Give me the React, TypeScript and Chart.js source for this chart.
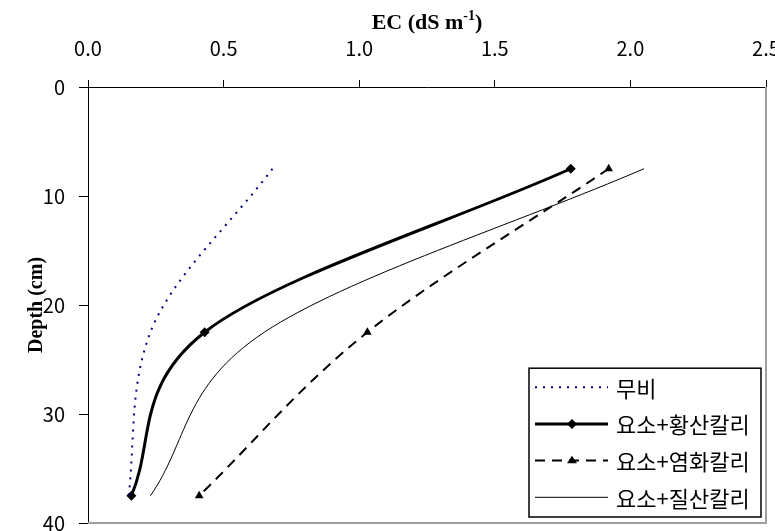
import React, { useEffect, useRef } from 'react';
import { Chart, registerables } from 'chart.js';

Chart.register(...registerables);

// ---- data ----
const depths = [7.5, 22.5, 37.5];
const seriesNames = ['무비', '요소+황산칼리', '요소+염화칼리', '요소+질산칼리'];
const ecControl = [0.68, 0.23, 0.15];
const ecUreaSulfate = [1.78, 0.43, 0.16];
const ecUreaChloride = [1.92, 1.03, 0.41];
const ecUreaNitrate = [2.05, 0.65, 0.23];
const xTickValues = [0, 0.5, 1.0, 1.5, 2.0, 2.5];
const yTickValues = [0, 10, 20, 30, 40];
const xTitleMain = 'EC (dS m';
const xTitleSup = '-1';
const xTitleEnd = ')';
const yTitle = 'Depth (cm)';

const seriesValues = [ecControl, ecUreaSulfate, ecUreaChloride, ecUreaNitrate];

type Style = { color: string; width: number; dash: number[]; point: string | null; radius: number };
const styles: Style[] = [
  { color: '#000080', width: 2, dash: [2, 6], point: null, radius: 0 },
  { color: '#000000', width: 3, dash: [], point: 'rectRot', radius: 5 },
  { color: '#000000', width: 2, dash: [10, 7], point: 'triangle', radius: 5 },
  { color: '#000000', width: 1, dash: [], point: null, radius: 0 },
];

const CJK = '"Noto Sans CJK KR", "Noto Sans", sans-serif';
const SERIF = '"Liberation Serif", "DejaVu Serif", serif';

function drawMarker(ctx: CanvasRenderingContext2D, kind: string | null, cx: number, cy: number, r: number) {
  if (!kind) return;
  ctx.beginPath();
  if (kind === 'rectRot') {
    ctx.moveTo(cx, cy - r);
    ctx.lineTo(cx + r, cy);
    ctx.lineTo(cx, cy + r);
    ctx.lineTo(cx - r, cy);
  } else {
    const h = r * 1.5;
    ctx.moveTo(cx, cy - h * 0.66);
    ctx.lineTo(cx + r, cy + h * 0.34);
    ctx.lineTo(cx - r, cy + h * 0.34);
  }
  ctx.closePath();
  ctx.fill();
}

const decorPlugin = {
  id: 'decor',
  afterDraw(chart: any) {
    const ctx: CanvasRenderingContext2D = chart.ctx;
    const a = chart.chartArea;
    ctx.save();
    // grey frame on right & bottom of plot area
    ctx.strokeStyle = '#a0a0a0';
    ctx.lineWidth = 2;
    ctx.setLineDash([]);
    ctx.beginPath();
    ctx.moveTo(a.right, a.top);
    ctx.lineTo(a.right, a.bottom);
    ctx.lineTo(a.left, a.bottom);
    ctx.stroke();

    // x axis title with superscript
    ctx.fillStyle = '#000';
    ctx.textBaseline = 'alphabetic';
    const mainFont = `bold 22px ${SERIF}`;
    const supFont = `bold 14px ${SERIF}`;
    ctx.font = mainFont;
    const w1 = ctx.measureText(xTitleMain).width;
    const w3 = ctx.measureText(xTitleEnd).width;
    ctx.font = supFont;
    const w2 = ctx.measureText(xTitleSup).width;
    const total = w1 + w2 + w3;
    const cx = (a.left + a.right) / 2;
    let x = cx - total / 2;
    const base = 29;
    ctx.font = mainFont;
    ctx.textAlign = 'left';
    ctx.fillText(xTitleMain, x, base);
    x += w1;
    ctx.font = supFont;
    ctx.fillText(xTitleSup, x, base - 9);
    x += w2;
    ctx.font = mainFont;
    ctx.fillText(xTitleEnd, x, base);

    // legend
    const right = a.right - 5;
    const bottom = a.bottom - 6;
    const width = 232;
    const rowH = 36.7;
    const height = rowH * seriesNames.length + 2;
    const left = right - width;
    const top = bottom - height;
    ctx.fillStyle = '#fff';
    ctx.fillRect(left, top, width, height);
    ctx.strokeStyle = '#000';
    ctx.lineWidth = 1.5;
    ctx.strokeRect(left, top, width, height);
    seriesNames.forEach((name, i) => {
      const st = styles[i];
      const y = top + 19 + i * rowH;
      ctx.strokeStyle = st.color;
      ctx.lineWidth = st.width;
      ctx.setLineDash(st.dash);
      ctx.beginPath();
      ctx.moveTo(left + 6, y);
      ctx.lineTo(left + 79, y);
      ctx.stroke();
      ctx.setLineDash([]);
      ctx.fillStyle = st.color;
      drawMarker(ctx, st.point, left + 43, y, st.radius);
      ctx.fillStyle = '#000';
      ctx.font = `22px ${CJK}`;
      ctx.textBaseline = 'middle';
      ctx.textAlign = 'left';
      ctx.fillText(name, left + 87, y + 1);
    });
    ctx.restore();
  },
};

export default function App() {
  const ref = useRef<HTMLCanvasElement | null>(null);
  useEffect(() => {
    if (!ref.current) return;
    const datasets = seriesNames.map((name, i) => ({
      label: name,
      data: depths.map((d, j) => ({ x: seriesValues[i][j], y: d })),
      borderColor: styles[i].color,
      backgroundColor: styles[i].color,
      borderWidth: styles[i].width,
      borderDash: styles[i].dash,
      pointStyle: styles[i].point || 'circle',
      pointRadius: styles[i].radius,
      pointBorderWidth: 0,
      pointBackgroundColor: styles[i].color,
      cubicInterpolationMode: 'monotone' as const,
      fill: false,
    }));
    const chart = new Chart(ref.current, {
      type: 'line',
      data: { datasets },
      plugins: [decorPlugin],
      options: {
        animation: false,
        responsive: false,
        indexAxis: 'y',
        layout: { padding: { left: 0, top: 0, right: 9, bottom: 8 } },
        plugins: { legend: { display: false }, tooltip: { enabled: false } },
        scales: {
          x: {
            type: 'linear',
            position: 'top',
            min: 0,
            max: 2.5,
            afterFit: (s: any) => { s.height = 87; s.paddingLeft = 0; s.paddingRight = 0; s.paddingTop = 0; s.paddingBottom = 0; },
            afterBuildTicks: (s: any) => { s.ticks = xTickValues.map((v) => ({ value: v })); },
            ticks: {
              callback: (v: any) => Number(v).toFixed(1),
              color: '#000',
              font: { family: CJK, size: 20 },
              padding: 20,
              maxRotation: 0,
              autoSkip: false,
            },
            grid: { drawOnChartArea: false, drawTicks: true, tickLength: 7, color: '#000', tickColor: '#000' },
            border: { display: true, color: '#000', width: 1 },
          },
          y: {
            type: 'linear',
            position: 'left',
            reverse: true,
            min: 0,
            max: 40,
            afterFit: (s: any) => { s.width = 88; s.paddingLeft = 0; s.paddingRight = 0; s.paddingTop = 0; s.paddingBottom = 0; },
            afterBuildTicks: (s: any) => { s.ticks = yTickValues.map((v) => ({ value: v })); },
            ticks: {
              color: '#000',
              font: { family: CJK, size: 20 },
              padding: 14,
              autoSkip: false,
            },
            grid: { drawOnChartArea: false, drawTicks: true, tickLength: 9, color: '#000', tickColor: '#000' },
            border: { display: true, color: '#000', width: 1 },
            title: {
              display: true,
              text: yTitle,
              color: '#000',
              font: { family: SERIF, size: 20, weight: 'bold' },
              padding: { top: 25, bottom: 0 },
            },
          },
        },
      } as any,
    });
    return () => chart.destroy();
  }, []);
  return (
    <div style={{ position: 'absolute', left: 0, top: 0, width: 775, height: 531, background: '#fff' }}>
      <canvas ref={ref} width={775} height={531} style={{ display: 'block', width: 775, height: 531 }} />
    </div>
  );
}
